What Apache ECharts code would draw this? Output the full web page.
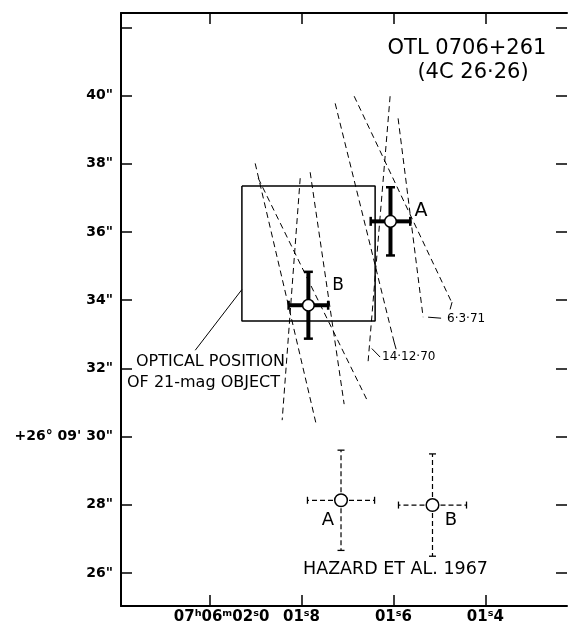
<!DOCTYPE html>
<html><head><meta charset="utf-8">
<script src="https://cdn.jsdelivr.net/npm/echarts@6/dist/echarts.min.js"></script>
<style>html,body{margin:0;padding:0;background:#fff}#c{width:568px;height:631px}</style>
</head><body><div id="c"></div>
<script>
// ---- axes (RA seconds of 07h06m, Dec arcsec of +26°09') ----
const raTicks = [2.0, 1.8, 1.6, 1.4];
const raTickLabels = ['07ʰ06ᵐ02ˢ0', '01ˢ8', '01ˢ6', '01ˢ4'];
const decTicks = [26, 28, 30, 32, 34, 36, 38, 40, 42];
const decLabelValues = [26, 28, 30, 32, 34, 36, 38, 40];
const decTickLabels = ['26"', '28"', '+26° 09\' 30"', '32"', '34"', '36"', '38"', '40"'];

// ---- optical position box ----
const opticalBoxRA = [1.9296, 1.6398];
const opticalBoxDec = [33.39, 37.35];

// ---- occultation position lines (start / end) ----
const posLineStart = [[1.9007, 38.01], [1.8941, 37.575], [1.8028, 37.575], [1.7811, 37.75],
                      [1.6854, 39.98], [1.7267, 39.77], [1.6072, 39.98], [1.5898, 39.33]];
const posLineEnd   = [[1.768, 30.36], [1.6572, 31.065], [1.842, 30.48], [1.7072, 30.95],
                      [1.4724, 33.91], [1.5985, 32.77], [1.655, 32.21], [1.5354, 33.50]];

// ---- leader lines for annotations ----
const leaderStart = [[1.9296, 34.31], [1.5246, 33.50], [1.4724, 33.94], [1.647, 32.58], [1.5985, 32.77]];
const leaderEnd   = [[2.0311, 32.53], [1.4963, 33.47], [1.4767, 33.73], [1.6289, 32.33], [1.5941, 32.56]];

// ---- new positions A, B ----
const newNames = ['A', 'B'];
const newRA = [1.6064, 1.785];
const newDec = [36.31, 33.85];
const newRaErr = [0.043, 0.043];
const newDecErr = [1.0, 0.98];

// ---- Hazard et al. 1967 positions A, B ----
const hazNames = ['A', 'B'];
const hazRA = [1.714, 1.515];
const hazDec = [28.13, 27.99];
const hazRaErr = [0.073, 0.074];
const hazDecErr = [1.47, 1.5];

const FONT = 'DejaVu Sans';
const chart = echarts.init(document.getElementById('c'), null, {renderer: 'canvas'});

function lookup(vals, labels, v) {
  const i = vals.findIndex(t => Math.abs(t - v) < 1e-6);
  return i < 0 ? '' : labels[i];
}

function errRender(st) {
  return function (params, api) {
    const x = api.value(0), y = api.value(1), ex = api.value(2), ey = api.value(3);
    const c = api.coord([x, y]);
    const L = api.coord([x + ex, y]), R = api.coord([x - ex, y]);
    const T = api.coord([x, y + ey]), B = api.coord([x, y - ey]);
    const ls = {stroke: '#000', lineWidth: st.w, lineDash: st.dash};
    const cs = {stroke: '#000', lineWidth: st.cw};
    const ch = [];
    [L, R, T, B].forEach(p => ch.push({type: 'line', shape: {x1: c[0], y1: c[1], x2: p[0], y2: p[1]}, style: ls}));
    [L, R].forEach(p => ch.push({type: 'line', shape: {x1: p[0], y1: p[1] - st.cap, x2: p[0], y2: p[1] + st.cap}, style: cs}));
    [T, B].forEach(p => ch.push({type: 'line', shape: {x1: p[0] - st.cap, y1: p[1], x2: p[0] + st.cap, y2: p[1]}, style: cs}));
    ch.push({type: 'circle', shape: {cx: c[0], cy: c[1], r: st.r}, style: {fill: '#fff', stroke: '#000', lineWidth: 1.5}});
    return {type: 'group', children: ch};
  };
}

const axisLineStyle = {color: '#000', width: 2};
const tickStyle = {color: '#000', width: 1.5};

const series = [];
posLineStart.forEach((s, i) => series.push({
  type: 'line', data: [s, posLineEnd[i]], symbol: 'none', silent: true, z: 2,
  lineStyle: {color: '#000', width: 1, type: [6, 4]}
}));
leaderStart.forEach((s, i) => series.push({
  type: 'line', data: [s, leaderEnd[i]], symbol: 'none', silent: true, z: 2,
  lineStyle: {color: '#000', width: 1}
}));
series.push({
  type: 'line', symbol: 'none', silent: true, z: 3,
  data: [[opticalBoxRA[0], opticalBoxDec[1]], [opticalBoxRA[1], opticalBoxDec[1]],
         [opticalBoxRA[1], opticalBoxDec[0]], [opticalBoxRA[0], opticalBoxDec[0]],
         [opticalBoxRA[0], opticalBoxDec[1]]],
  lineStyle: {color: '#000', width: 1.5}
});
series.push({
  type: 'custom', z: 5, silent: true, clip: false,
  renderItem: errRender({w: 4, dash: null, cw: 2.5, cap: 4.5, r: 5.8}),
  encode: {x: 0, y: 1},
  data: newRA.map((r, i) => [r, newDec[i], newRaErr[i], newDecErr[i]])
});
series.push({
  type: 'custom', z: 5, silent: true, clip: false,
  renderItem: errRender({w: 1.2, dash: [5, 3], cw: 1.3, cap: 3.5, r: 6.3}),
  encode: {x: 0, y: 1},
  data: hazRA.map((r, i) => [r, hazDec[i], hazRaErr[i], hazDecErr[i]])
});

function txt(x, y, s, size, align) {
  return {type: 'text', x: x, y: y, silent: true, z: 10,
    style: {text: s, font: size + 'px "' + FONT + '"', fill: '#000',
      textAlign: align || 'center', textVerticalAlign: 'middle', verticalAlign: 'middle'}};
}

const option = {
  animation: false,
  backgroundColor: '#fff',
  grid: {left: 121, right: 1, top: 13, bottom: 25, containLabel: false, outerBoundsMode: 'none'},
  xAxis: [
    {type: 'value', position: 'bottom', inverse: true, min: 1.2224, max: 2.1926,
      axisLine: {show: true, lineStyle: axisLineStyle},
      axisTick: {show: true, inside: true, length: 11, customValues: raTicks, lineStyle: tickStyle},
      axisLabel: {show: true, customValues: raTicks, margin: 4, color: '#000', fontSize: 15, fontWeight: 'bold', fontFamily: FONT,
        formatter: v => {
          const s = lookup(raTicks, raTickLabels, v);
          return Math.abs(v - 2.0) < 1e-6 ? '{p|' + s + '}' : s;
        },
        rich: {p: {padding: [0, 0, 0, 24], fontSize: 15, fontWeight: 'bold', fontFamily: FONT, color: '#000'}}},
      splitLine: {show: false}},
    {type: 'value', position: 'top', inverse: true, min: 1.2224, max: 2.1926,
      axisLine: {show: true, lineStyle: axisLineStyle},
      axisTick: {show: true, inside: true, length: 11, customValues: raTicks, lineStyle: tickStyle},
      axisLabel: {show: false}, splitLine: {show: false}}
  ],
  yAxis: [
    {type: 'value', position: 'left', min: 25.03, max: 42.42,
      axisLine: {show: true, lineStyle: axisLineStyle},
      axisTick: {show: true, inside: true, length: 11, customValues: decTicks, lineStyle: tickStyle},
      axisLabel: {show: true, customValues: decLabelValues, margin: 8, color: '#000', fontSize: 14, fontWeight: 'bold', fontFamily: FONT,
        formatter: v => lookup(decLabelValues, decTickLabels, v)},
      splitLine: {show: false}},
    {type: 'value', position: 'right', min: 25.03, max: 42.42,
      axisLine: {show: false},
      axisTick: {show: true, inside: true, length: 11, customValues: decTicks, lineStyle: tickStyle},
      axisLabel: {show: false}, splitLine: {show: false}}
  ],
  series: series,
  graphic: [
    txt(467, 49, 'OTL 0706+261', 21),
    txt(473, 73, '(4C 26·26)', 21),
    txt(421, 211, newNames[0], 19),
    txt(338, 286, newNames[1], 17),
    txt(328, 520, hazNames[0], 18),
    txt(451, 520, hazNames[1], 18),
    txt(447, 319, '6·3·71', 12, 'left'),
    txt(382, 357, '14·12·70', 12, 'left'),
    txt(136, 362, 'OPTICAL POSITION', 16, 'left'),
    txt(127, 383, 'OF 21-mag OBJECT', 16, 'left'),
    txt(303, 569, 'HAZARD ET AL. 1967', 17.5, 'left')
  ]
};
chart.setOption(option);
</script>
</body></html>
